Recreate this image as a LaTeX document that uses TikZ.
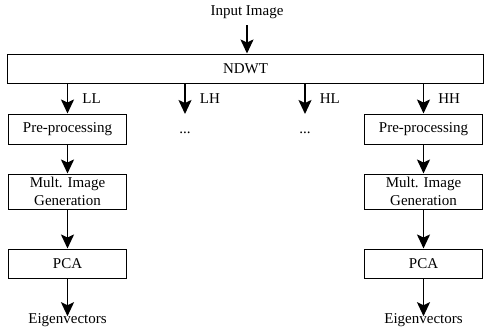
\documentclass[tikz,border=0pt]{standalone}
\usepackage{fontspec}
\setmainfont{Liberation Serif}
\usetikzlibrary{arrows.meta}
\begin{document}
\begin{tikzpicture}[x=1pt,y=-1pt,
  every node/.style={font=\fontsize{15}{18}\selectfont, inner sep=0pt},
  box/.style={draw, line width=1pt, minimum width=118pt, align=center},
  arr/.style={line width=1.8pt, -{Stealth[length=14pt,width=13pt,inset=3pt]}},
  lbl/.style={right=14pt, pos=0.5}]
\useasboundingbox (0,0) rectangle (484,335);
\node (in) at (247,12) {Input Image};
\node[draw, line width=1pt, minimum width=476pt, minimum height=29pt] (ndwt) at (245.5,68.5) {NDWT};
\coordinate (ins) at (247,25);
\draw[arr] (ins) -- (ins |- ndwt.north);
% left column
\node[box, minimum height=30pt] (p1) at (67.5,129) {Pre-processing};
\node[box, minimum height=35pt] (m1) at (67.5,191.5) {Mult. Image\\Generation};
\node[box, minimum height=29pt] (c1) at (67.5,263.5) {PCA};
\node (e1) at (67.5,320) {Eigenvectors};
% right column
\node[box, minimum height=30pt] (p4) at (423.5,129) {Pre-processing};
\node[box, minimum height=35pt] (m4) at (423.5,191.5) {Mult. Image\\Generation};
\node[box, minimum height=29pt] (c4) at (423.5,263.5) {PCA};
\node (e4) at (423.5,320) {Eigenvectors};
% dots
\node (d2) at (185,133) {...};
\node (d3) at (305,133) {...};
\coordinate (t2) at (185,114);
\coordinate (t3) at (305,114);
% arrows from NDWT
\draw[arr] (ndwt.south -| p1.north) -- node[lbl] {LL} (p1.north);
\draw[arr] (ndwt.south -| t2) -- node[lbl] {LH} (t2);
\draw[arr] (ndwt.south -| t3) -- node[lbl] {HL} (t3);
\draw[arr] (ndwt.south -| p4.north) -- node[lbl] {HH} (p4.north);
% column arrows
\draw[arr] (p1) -- (m1);
\draw[arr] (m1) -- (c1);
\draw[arr] (c1.south) -- ([yshift=-3pt]e1.north);
\draw[arr] (p4) -- (m4);
\draw[arr] (m4) -- (c4);
\draw[arr] (c4.south) -- ([yshift=-3pt]e4.north);
\end{tikzpicture}
\end{document}
